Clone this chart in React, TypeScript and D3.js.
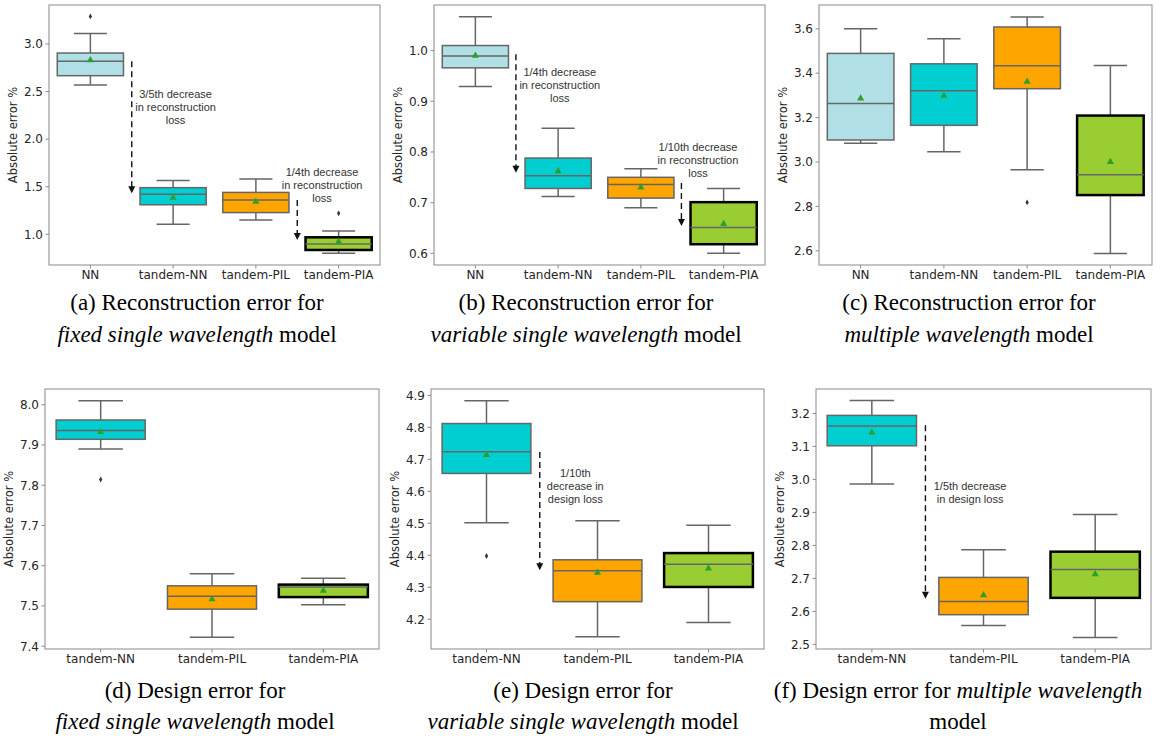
import React from "react";
import * as d3 from "d3";

// ---------- categories ----------
const catsTop = ["NN", "tandem-NN", "tandem-PIL", "tandem-PIA"];
const catsBottom = ["tandem-NN", "tandem-PIL", "tandem-PIA"];

// ---------- box stats: [lowWhisker, q1, median, q3, highWhisker] ----------
const statsA = [
  [2.57, 2.667, 2.82, 2.905, 3.11],
  [1.105, 1.31, 1.42, 1.49, 1.564],
  [1.15, 1.228, 1.36, 1.44, 1.58],
  [0.8, 0.835, 0.898, 0.968, 1.035],
];
const meansA = [2.83, 1.385, 1.343, 0.922];
const outliersA = [[3.29], [], [], [1.22]];
const ticksA = [1.0, 1.5, 2.0, 2.5, 3.0];
const tickLabelsA = ["1.0", "1.5", "2.0", "2.5", "3.0"];

const statsB = [
  [0.929, 0.966, 0.9896, 1.01, 1.067],
  [0.712, 0.728, 0.753, 0.788, 0.847],
  [0.69, 0.709, 0.736, 0.75, 0.767],
  [0.6, 0.618, 0.651, 0.701, 0.728],
];
const meansB = [0.99, 0.762, 0.73, 0.658];
const outliersB = [[], [], [], []];
const ticksB = [0.6, 0.7, 0.8, 0.9, 1.0];
const tickLabelsB = ["0.6", "0.7", "0.8", "0.9", "1.0"];

const statsC = [
  [3.084, 3.099, 3.263, 3.489, 3.6],
  [3.046, 3.165, 3.321, 3.442, 3.555],
  [2.965, 3.33, 3.433, 3.608, 3.653],
  [2.588, 2.851, 2.943, 3.209, 3.435],
];
const meansC = [3.286, 3.298, 3.362, 3.0];
const outliersC = [[], [], [2.818], []];
const ticksC = [2.6, 2.8, 3.0, 3.2, 3.4, 3.6];
const tickLabelsC = ["2.6", "2.8", "3.0", "3.2", "3.4", "3.6"];

const statsD = [
  [7.89, 7.914, 7.936, 7.962, 8.01],
  [7.422, 7.492, 7.524, 7.55, 7.58],
  [7.503, 7.522, 7.547, 7.553, 7.569],
];
const meansD = [7.932, 7.517, 7.538];
const outliersD = [[7.814], [], []];
const ticksD = [7.4, 7.5, 7.6, 7.7, 7.8, 7.9, 8.0];
const tickLabelsD = ["7.4", "7.5", "7.6", "7.7", "7.8", "7.9", "8.0"];

const statsE = [
  [4.502, 4.656, 4.724, 4.812, 4.883],
  [4.145, 4.255, 4.352, 4.386, 4.508],
  [4.19, 4.301, 4.372, 4.407, 4.494],
];
const meansE = [4.714, 4.346, 4.359];
const outliersE = [[4.398], [], []];
const ticksE = [4.2, 4.3, 4.4, 4.5, 4.6, 4.7, 4.8, 4.9];
const tickLabelsE = ["4.2", "4.3", "4.4", "4.5", "4.6", "4.7", "4.8", "4.9"];

const statsF = [
  [2.986, 3.102, 3.162, 3.194, 3.239],
  [2.557, 2.59, 2.63, 2.703, 2.787],
  [2.521, 2.641, 2.727, 2.781, 2.894],
];
const meansF = [3.142, 2.649, 2.713];
const outliersF = [[], [], []];
const ticksF = [2.5, 2.6, 2.7, 2.8, 2.9, 3.0, 3.1, 3.2];
const tickLabelsF = ["2.5", "2.6", "2.7", "2.8", "2.9", "3.0", "3.1", "3.2"];

// ---------- annotations (data space: category index & values) ----------
const notesA = [
  { at: 0.5, from: 2.82, to: 1.43, tx: 1.03, ty: 2.474, lines: ["3/5th decrease", "in reconstruction", "loss"] },
  { at: 2.5, from: 1.36, to: 0.94, tx: 2.8, ty: 1.655, lines: ["1/4th decrease", "in reconstruction", "loss"] },
];
const notesB = [
  { at: 0.49, from: 0.993, to: 0.759, tx: 1.02, ty: 0.958, lines: ["1/4th decrease", "in reconstruction", "loss"] },
  { at: 2.49, from: 0.739, to: 0.654, tx: 2.69, ty: 0.81, lines: ["1/10th decrease", "in reconstruction", "loss"] },
];
const notesE = [
  { at: 0.48, from: 4.723, to: 4.353, tx: 0.8, ty: 4.657, lines: ["1/10th", "decrease in", "design loss"] },
];
const notesF = [
  { at: 0.48, from: 3.164, to: 2.638, tx: 0.88, ty: 2.979, lines: ["1/5th decrease", "in design loss"] },
];

const captionsTop = [
  { l1: [["(a) Reconstruction error for", false]], l2: [["fixed single wavelength", true], [" model", false]] },
  { l1: [["(b) Reconstruction error for", false]], l2: [["variable single wavelength", true], [" model", false]] },
  { l1: [["(c) Reconstruction error for", false]], l2: [["multiple wavelength", true], [" model", false]] },
];
const captionsBottom = [
  { l1: [["(d) Design error for", false]], l2: [["fixed single wavelength", true], [" model", false]] },
  { l1: [["(e) Design error for", false]], l2: [["variable single wavelength", true], [" model", false]] },
  { l1: [["(f) Design error for ", false], ["multiple wavelength", true]], l2: [["model", false]] },
];

const colorMap: Record<string, string> = {
  NN: "#b0e0e6",
  "tandem-NN": "#00ced1",
  "tandem-PIL": "#ffa500",
  "tandem-PIA": "#9acd32",
};

const EDGE = "#666666";
const SANS = "DejaVu Sans, sans-serif";
const ARIAL = "Liberation Sans, Arial, sans-serif";
const SERIF = "Liberation Serif, Times New Roman, serif";

type Frame = { x0: number; x1: number; y0: number; y1: number };

function BoxPanel(props: {
  frame: Frame;
  cats: string[];
  stats: number[][];
  means: number[];
  outliers: number[][];
  domain: [number, number];
  ticks: number[];
  tickLabels: string[];
  notes: any[];
}) {
  const { frame, cats, stats, means, outliers, domain, ticks, tickLabels, notes } = props;
  const x = d3.scaleBand<string>().domain(cats).range([frame.x0, frame.x1]).padding(0);
  const y = d3.scaleLinear().domain(domain).range([frame.y1, frame.y0]);
  const bw = x.bandwidth();
  const boxW = bw * 0.8;
  const idx = (i: number) => frame.x0 + (i + 0.5) * bw;
  const tri = d3.symbol().type(d3.symbolTriangle).size(22)() as string;
  const dia = d3.symbol().type(d3.symbolDiamond).size(10)() as string;

  return (
    <g>
      {/* boxes */}
      {cats.map((c, i) => {
        const [lo, q1, med, q3, hi] = stats[i];
        const cx = (x(c) as number) + bw / 2;
        const isPIA = c === "tandem-PIA";
        const capW = boxW / 2;
        return (
          <g key={c}>
            <line x1={cx} x2={cx} y1={y(q3)} y2={y(hi)} stroke={EDGE} strokeWidth={1.5} />
            <line x1={cx} x2={cx} y1={y(q1)} y2={y(lo)} stroke={EDGE} strokeWidth={1.5} />
            <line x1={cx - capW / 2} x2={cx + capW / 2} y1={y(hi)} y2={y(hi)} stroke={EDGE} strokeWidth={1.5} />
            <line x1={cx - capW / 2} x2={cx + capW / 2} y1={y(lo)} y2={y(lo)} stroke={EDGE} strokeWidth={1.5} />
            <rect
              x={cx - boxW / 2}
              y={y(q3)}
              width={boxW}
              height={y(q1) - y(q3)}
              fill={colorMap[c]}
              stroke={isPIA ? "#000" : EDGE}
              strokeWidth={isPIA ? 2.5 : 1.5}
            />
            <line x1={cx - boxW / 2} x2={cx + boxW / 2} y1={y(med)} y2={y(med)} stroke={EDGE} strokeWidth={1.5} />
            <path d={tri} transform={`translate(${cx},${y(means[i])})`} fill="#2ca02c" />
            {outliers[i].map((o, k) => (
              <path key={k} d={dia} transform={`translate(${cx},${y(o)})`} fill="#3a3a3a" />
            ))}
          </g>
        );
      })}
      {/* frame */}
      <rect
        x={frame.x0}
        y={frame.y0}
        width={frame.x1 - frame.x0}
        height={frame.y1 - frame.y0}
        fill="none"
        stroke="#8a8a8a"
        strokeWidth={1}
      />
      {/* y ticks */}
      {ticks.map((t, i) => (
        <g key={t}>
          <line x1={frame.x0 - 3.5} x2={frame.x0} y1={y(t)} y2={y(t)} stroke="#8a8a8a" strokeWidth={1} />
          <text
            x={frame.x0 - 6}
            y={y(t)}
            dy="0.36em"
            textAnchor="end"
            fontFamily={SANS}
            fontSize={12}
            fill="#262626"
          >
            {tickLabels[i]}
          </text>
        </g>
      ))}
      {/* x ticks */}
      {cats.map((c) => {
        const cx = (x(c) as number) + bw / 2;
        return (
          <g key={c}>
            <line x1={cx} x2={cx} y1={frame.y1} y2={frame.y1 + 3.5} stroke="#8a8a8a" strokeWidth={1} />
            <text x={cx} y={frame.y1 + 14} textAnchor="middle" fontFamily={SANS} fontSize={12} fill="#262626">
              {c}
            </text>
          </g>
        );
      })}
      {/* y label */}
      <text
        transform={`translate(${frame.x0 - 32},${(frame.y0 + frame.y1) / 2}) rotate(-90)`}
        textAnchor="middle"
        fontFamily={SANS}
        fontSize={11.5}
        fill="#262626"
      >
        Absolute error %
      </text>
      {/* annotations */}
      {notes.map((n, k) => {
        const ax = idx(n.at);
        const ya = y(n.from);
        const yb = y(n.to);
        return (
          <g key={k}>
            <line x1={ax} x2={ax} y1={ya} y2={yb - 6} stroke="#111" strokeWidth={1.4} strokeDasharray="6,4" />
            <path d={`M${ax - 3.5},${yb - 7}L${ax + 3.5},${yb - 7}L${ax},${yb}Z`} fill="#111" />
            {n.lines.map((l: string, j: number) => (
              <text
                key={j}
                x={idx(n.tx)}
                y={y(n.ty) + j * 13}
                dy="0.35em"
                textAnchor="middle"
                fontFamily={ARIAL}
                fontSize={11}
                fill="#333"
              >
                {l}
              </text>
            ))}
          </g>
        );
      })}
    </g>
  );
}

function Caption(props: { cx: number; y1: number; y2: number; cap: any }) {
  const { cx, y1, y2, cap } = props;
  const render = (parts: any[]) =>
    parts.map((p: any, i: number) => (
      <tspan key={i} fontStyle={p[1] ? "italic" : "normal"}>
        {p[0]}
      </tspan>
    ));
  return (
    <g fontFamily={SERIF} fontSize={23} fill="#000" textAnchor="middle">
      <text x={cx} y={y1} xmlSpace="preserve" style={{ whiteSpace: "pre" }}>
        {render(cap.l1)}
      </text>
      <text x={cx} y={y2} xmlSpace="preserve" style={{ whiteSpace: "pre" }}>
        {render(cap.l2)}
      </text>
    </g>
  );
}

export default function App() {
  const framesTop: Frame[] = [
    { x0: 49, x1: 380, y0: 5, y1: 265 },
    { x0: 434, x1: 765, y0: 5, y1: 265 },
    { x0: 819, x1: 1152, y0: 5, y1: 265 },
  ];
  const framesBottom: Frame[] = [
    { x0: 45, x1: 379, y0: 389, y1: 649 },
    { x0: 431, x1: 764, y0: 389, y1: 649 },
    { x0: 816, x1: 1151, y0: 389, y1: 649 },
  ];
  return (
    <svg
      width={1166}
      height={736}
      style={{ position: "absolute", left: 0, top: 0, background: "#fff" }}
    >
      <rect width={1166} height={736} fill="#fff" />
      <BoxPanel frame={framesTop[0]} cats={catsTop} stats={statsA} means={meansA} outliers={outliersA}
        domain={[0.677, 3.41]} ticks={ticksA} tickLabels={tickLabelsA} notes={notesA} />
      <BoxPanel frame={framesTop[1]} cats={catsTop} stats={statsB} means={meansB} outliers={outliersB}
        domain={[0.577, 1.09]} ticks={ticksB} tickLabels={tickLabelsB} notes={notesB} />
      <BoxPanel frame={framesTop[2]} cats={catsTop} stats={statsC} means={meansC} outliers={outliersC}
        domain={[2.536, 3.707]} ticks={ticksC} tickLabels={tickLabelsC} notes={[]} />
      <BoxPanel frame={framesBottom[0]} cats={catsBottom} stats={statsD} means={meansD} outliers={outliersD}
        domain={[7.393, 8.039]} ticks={ticksD} tickLabels={tickLabelsD} notes={[]} />
      <BoxPanel frame={framesBottom[1]} cats={catsBottom} stats={statsE} means={meansE} outliers={outliersE}
        domain={[4.107, 4.92]} ticks={ticksE} tickLabels={tickLabelsE} notes={notesE} />
      <BoxPanel frame={framesBottom[2]} cats={catsBottom} stats={statsF} means={meansF} outliers={outliersF}
        domain={[2.486, 3.274]} ticks={ticksF} tickLabels={tickLabelsF} notes={notesF} />
      {captionsTop.map((c, i) => (
        <Caption key={i} cx={[197, 586, 969][i]} y1={310} y2={342} cap={c} />
      ))}
      {captionsBottom.map((c, i) => (
        <Caption key={i} cx={[195, 583, 958][i]} y1={698} y2={729} cap={c} />
      ))}
    </svg>
  );
}
